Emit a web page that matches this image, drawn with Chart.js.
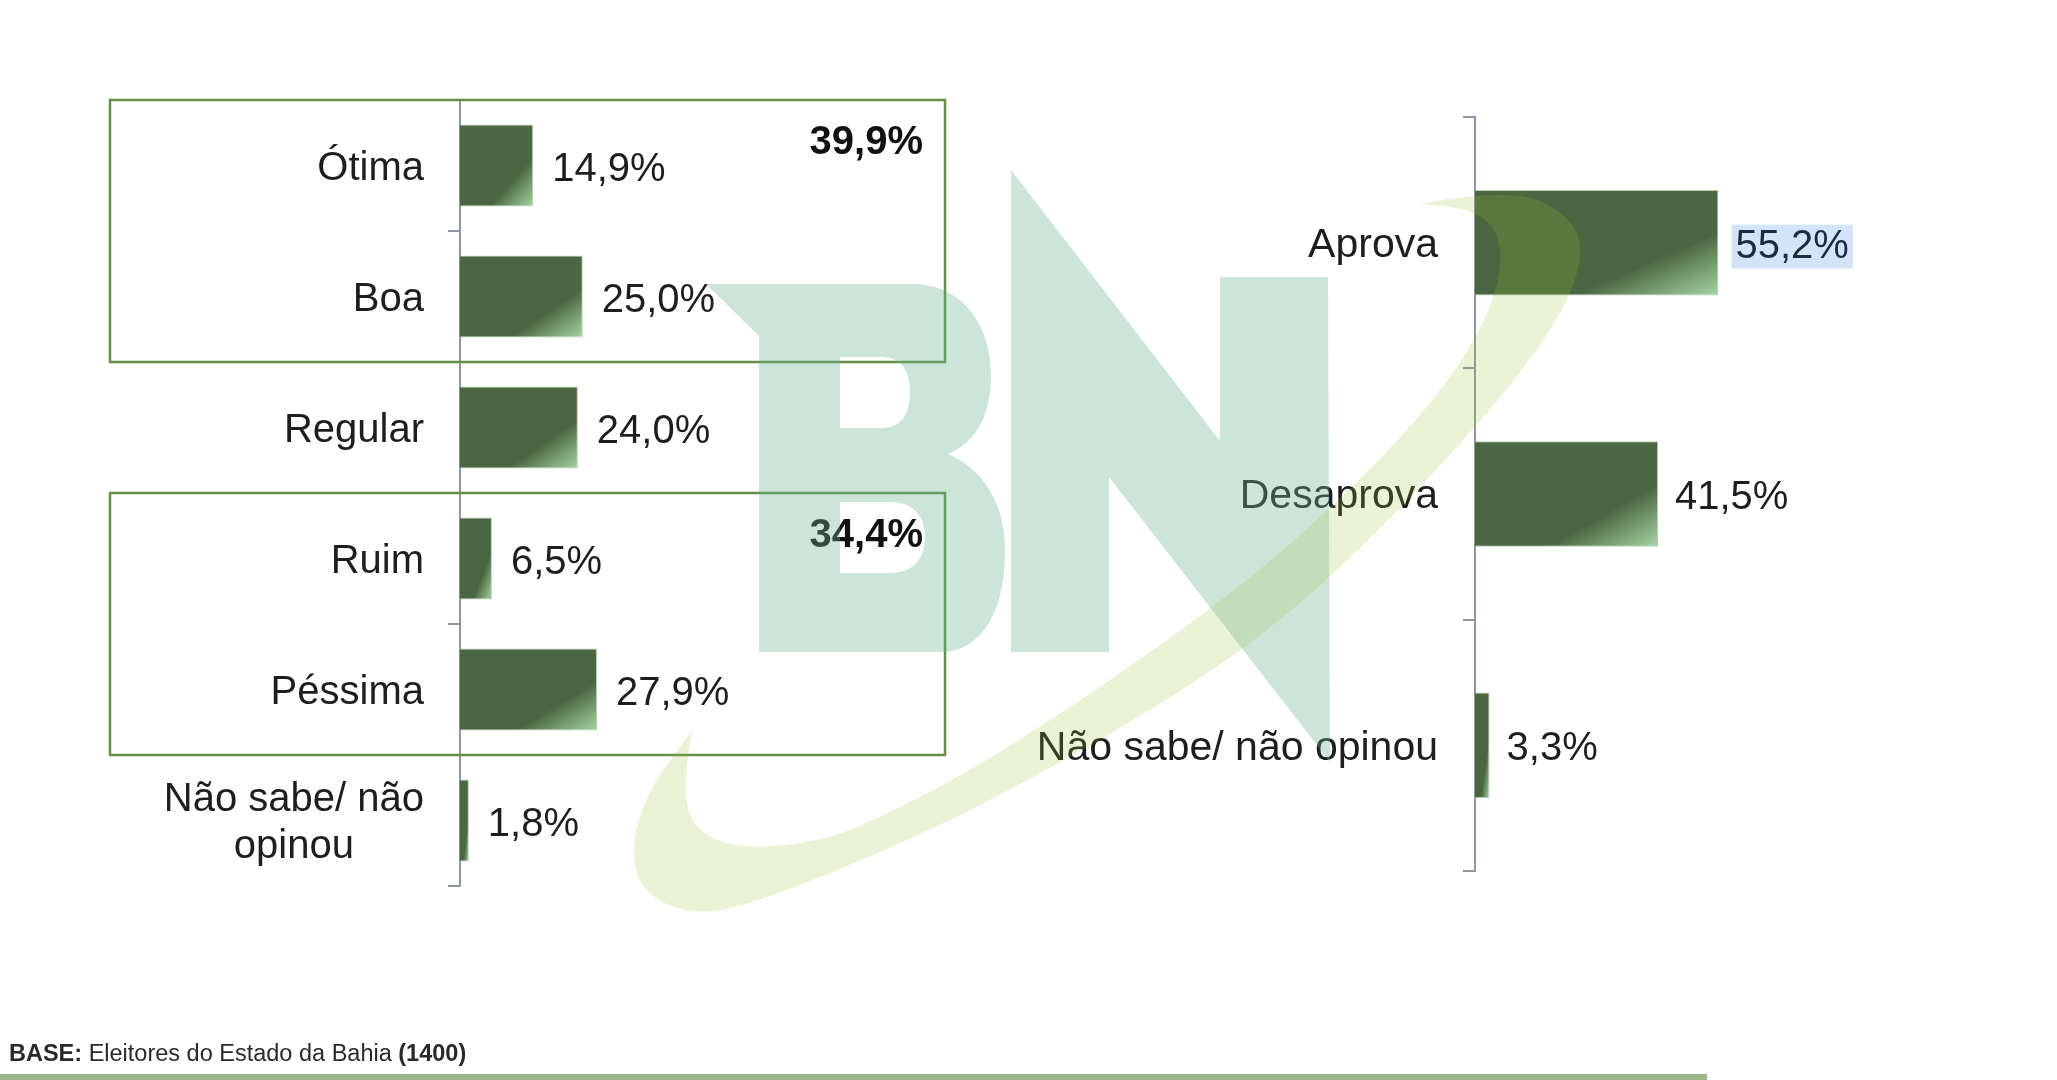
<!DOCTYPE html>
<html>
<head>
<meta charset="utf-8">
<script src="https://cdn.jsdelivr.net/npm/chart.js@4.4.1/dist/chart.umd.min.js"></script>
<style>
  html, body { margin: 0; padding: 0; background: #fff; }
  #page { position: relative; width: 2057px; height: 1080px; overflow: hidden; }
  #page canvas { position: absolute; left: 0; top: 0; }
  #mark { pointer-events: none; }
  #base { position: absolute; left: 9px; top: 1041px; font: 23.5px/24px "Liberation Sans", Arial, sans-serif; color: #2a2a2a; white-space: nowrap; }
  #rule { position: absolute; left: 0; top: 1074px; width: 1707px; height: 6px; background: #9bb58a; }
</style>
</head>
<body>
<div id="page">
  <canvas id="leftChart" width="2057" height="1080"></canvas>
  <canvas id="rightChart" width="2057" height="1080"></canvas>
  <canvas id="mark" width="2057" height="1080"></canvas>
  <div id="base"><b>BASE:</b> Eleitores do Estado da Bahia <b>(1400)</b></div>
  <div id="rule"></div>
</div>
<script>
(function(root){

    // avaliação do governo
    const leftLabels = ["Ótima", "Boa", "Regular", "Ruim", "Péssima", ["Não sabe/ não", "opinou"]];
    const leftValues = [14.9, 25.0, 24.0, 6.5, 27.9, 1.8];
    const leftGroups = [[0, 1], [3, 4]];
    const leftGroupTotals = [39.9, 34.4];

    // aprovação
    const rightLabels = ["Aprova", "Desaprova", "Não sabe/ não opinou"];
    const rightValues = [55.2, 41.5, 3.3];
    const rightHighlight = [true, false, false];

    const axisMax = 100;

    const DARK = "#4b6742";
    const LIGHT = "#a6d4a3";
    const AXIS = "#8c96a0";
    const TEXT = "#1e1e1e";
    const FONT = "\"Liberation Sans\", Arial, sans-serif";

    const fmt = (v) => v.toFixed(1).replace(".", ",") + "%";

    // diagonal gradient, light only in the lower right corner of each bar
    const barFill = (function(c) {
        let chart = c.chart;
        if (!chart.chartArea || c.raw == null) return DARK;
        let xs = chart.scales.x, ys = chart.scales.y;
        let ds = c.dataset;
        let h = ys.height / chart.data.labels.length * ds.categoryPercentage * ds.barPercentage;
        let x0 = xs.getPixelForValue(0);
        let w = Math.max(1, xs.getPixelForValue(c.raw) - x0);
        let y0 = ys.getPixelForValue(c.dataIndex) - h / 2;
        let k = 2 * w * h / (w * w + h * h);
        let g = chart.ctx.createLinearGradient(x0, y0, x0 + h * k, y0 + w * k);
        g.addColorStop(0, DARK);
        g.addColorStop(0.7, DARK);
        g.addColorStop(1, LIGHT);
        return g;
    });

    const catLabels = {
        id: "catLabels",
        afterDatasetsDraw(chart, args, opts) {
            let ctx = chart.ctx, ys = chart.scales.y;
            let xr = chart.chartArea.left - opts.gap;
            ctx.save();
            ctx.font = opts.font;
            ctx.fillStyle = TEXT;
            ctx.textBaseline = "middle";
            chart.data.labels.forEach((lab, i) => {
                let lines = Array.isArray(lab) ? lab : [lab];
                let yc = ys.getPixelForValue(i) + 3;
                let widest = Math.max(...lines.map(l => ctx.measureText(l).width));
                let multi = lines.length > 1;
                ctx.textAlign = multi ? "center" : "right";
                let x = multi ? xr - widest / 2 : xr;
                lines.forEach((l, j) => {
                    ctx.fillText(l, x, yc + (j - (lines.length - 1) / 2) * opts.lineHeight);
                });
            });
            ctx.restore();
        }
    };

    const valueLabels = {
        id: "valueLabels",
        afterDatasetsDraw(chart, args, opts) {
            let ctx = chart.ctx;
            let meta = chart.getDatasetMeta(0);
            let values = chart.data.datasets[0].data;
            let hl = opts.highlight || [];
            ctx.save();
            ctx.font = opts.font;
            ctx.textBaseline = "middle";
            ctx.textAlign = "left";
            meta.data.forEach((bar, i) => {
                let txt = fmt(values[i]);
                let x = bar.x + opts.gap;
                let y = bar.y + 4;
                if (hl[i]) {
                    let tw = ctx.measureText(txt).width;
                    ctx.fillStyle = "#d3e4fa";
                    ctx.fillRect(x - 4, y - 22, tw + 8, 44);
                    ctx.fillStyle = "#1c2b3f";
                } else {
                    ctx.fillStyle = TEXT;
                }
                ctx.fillText(txt, x, y);
            });
            ctx.restore();
        }
    };

    const groupBoxes = {
        id: "groupBoxes",
        afterDatasetsDraw(chart, args, opts) {
            let ctx = chart.ctx, ys = chart.scales.y, area = chart.chartArea;
            let step = ys.height / chart.data.labels.length;
            ctx.save();
            leftGroups.forEach((g, i) => {
                let top = ys.getPixelForValue(g[0]) - step / 2;
                let bottom = ys.getPixelForValue(g[1]) + step / 2;
                let right = area.right - 6;
                ctx.strokeStyle = "#658f48";
                ctx.lineWidth = 2.5;
                ctx.strokeRect(opts.left, top, right - opts.left, bottom - top);
                ctx.font = "bold 40px " + FONT;
                ctx.fillStyle = "#111";
                ctx.textAlign = "right";
                ctx.textBaseline = "middle";
                ctx.fillText(fmt(leftGroupTotals[i]), right - 22, top + 43);
            });
            ctx.restore();
        }
    };

    const makeConfig = (function(labels, values, barPct, pad, extra) {
        return {
            type: "bar",
            data: {
                labels: labels,
                datasets: [{
                    data: values,
                    backgroundColor: barFill,
                    borderColor: "rgba(150,185,145,0.7)",
                    borderWidth: 1,
                    categoryPercentage: 1,
                    barPercentage: barPct
                }]
            },
            options: {
                indexAxis: "y",
                responsive: false,
                animation: false,
                layout: { padding: pad },
                plugins: Object.assign({
                    legend: { display: false },
                    tooltip: { enabled: false }
                }, extra),
                scales: {
                    x: { display: false, min: 0, max: axisMax },
                    y: {
                        grid: {
                            offset: true,
                            drawOnChartArea: false,
                            drawTicks: true,
                            tickLength: 12,
                            color: AXIS,
                            lineWidth: 2
                        },
                        border: { display: true, color: AXIS, width: 2 },
                        ticks: { display: false },
                        afterFit: (s) => { s.width = 40; }
                    }
                }
            }
        };
    });

    let leftCfg = makeConfig(leftLabels, leftValues, 0.626,
        { left: 420, right: 1106, top: 100, bottom: 194 },
        {
            catLabels: { font: "40px " + FONT, gap: 36, lineHeight: 47 },
            valueLabels: { font: "40px " + FONT, gap: 19 },
            groupBoxes: { left: 110 }
        });
    leftCfg.plugins = [catLabels, valueLabels, groupBoxes];
    new Chart(document.getElementById("leftChart").getContext("2d"), leftCfg);

    let rightCfg = makeConfig(rightLabels, rightValues, 0.42,
        { left: 1435, right: 141, top: 117, bottom: 209 },
        {
            catLabels: { font: "41px " + FONT, gap: 37, lineHeight: 47 },
            valueLabels: { font: "40px " + FONT, gap: 17, highlight: rightHighlight }
        });
    rightCfg.plugins = [catLabels, valueLabels];
    new Chart(document.getElementById("rightChart").getContext("2d"), rightCfg);

    // watermark logo drawn over everything
    const smooth = (function(ctx, pts, start) {
        if (start) ctx.moveTo(pts[0][0], pts[0][1]);
        else ctx.lineTo(pts[0][0], pts[0][1]);
        for (let i = 1; i < pts.length - 1; i++) {
            let mx = (pts[i][0] + pts[i + 1][0]) / 2, my = (pts[i][1] + pts[i + 1][1]) / 2;
            ctx.quadraticCurveTo(pts[i][0], pts[i][1], mx, my);
        }
        let last = pts[pts.length - 1];
        ctx.lineTo(last[0], last[1]);
    });

    let m = document.getElementById("mark").getContext("2d");
    m.save();
    m.fillStyle = "rgba(109,181,146,0.35)";
    m.beginPath();
    m.moveTo(706, 284); m.lineTo(912, 284);
    m.bezierCurveTo(960, 284, 991, 322, 991, 375);
    m.bezierCurveTo(991, 420, 972, 445, 948, 454);
    m.bezierCurveTo(985, 470, 1005, 505, 1005, 550);
    m.bezierCurveTo(1005, 612, 982, 652, 940, 652);
    m.lineTo(759, 652); m.lineTo(759, 336); m.closePath();
    m.moveTo(840, 357); m.lineTo(882, 357);
    m.bezierCurveTo(902, 357, 910, 372, 910, 392);
    m.bezierCurveTo(910, 413, 902, 428, 882, 428);
    m.lineTo(840, 428); m.closePath();
    m.moveTo(840, 502); m.lineTo(890, 502);
    m.bezierCurveTo(914, 502, 925, 517, 925, 537);
    m.bezierCurveTo(925, 558, 914, 573, 890, 573);
    m.lineTo(840, 573); m.closePath();
    m.fill("evenodd");

    m.beginPath();
    m.moveTo(1011, 170); m.lineTo(1220, 441); m.lineTo(1220, 277); m.lineTo(1328, 277);
    m.lineTo(1330, 762); m.lineTo(1109, 477); m.lineTo(1109, 652); m.lineTo(1011, 652);
    m.closePath();
    m.fill();

    m.fillStyle = "rgba(157,196,54,0.2)";
    m.beginPath();
    smooth(m, [[1419, 204], [1515, 186], [1578, 222], [1582, 268], [1550, 335], [1465, 441],
               [1325, 585], [1200, 682], [1000, 797], [860, 862], [740, 908], [690, 914],
               [645, 895], [630, 855], [645, 795], [692, 730]], true);
    smooth(m, [[692, 730], [682, 790], [695, 830], [735, 848], [800, 845], [861, 828],
               [1000, 755], [1205, 615], [1325, 515], [1432, 405], [1487, 320], [1503, 262],
               [1495, 225], [1465, 208], [1419, 204]], false);
    m.closePath();
    m.fill();
    m.restore();

})(window);
</script>
</body>
</html>
